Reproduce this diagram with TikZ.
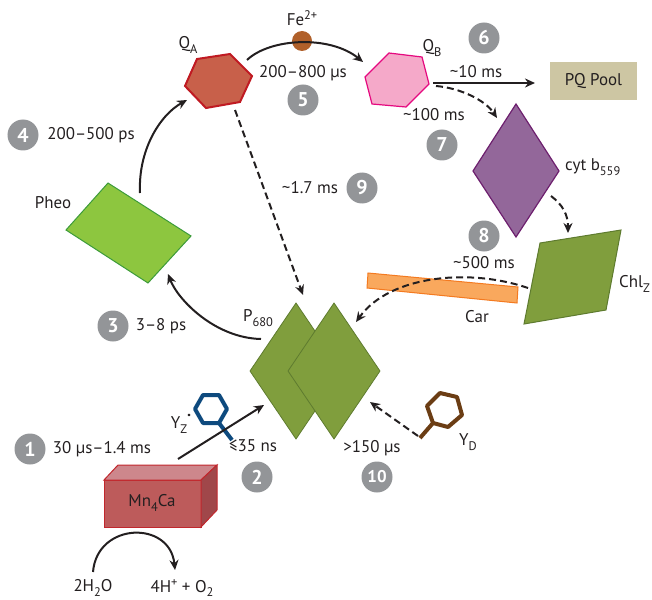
\documentclass[tikz,border=0pt]{standalone}
\usepackage{fontspec}
\setmainfont{PT Sans}
\usetikzlibrary{arrows.meta}
\definecolor{txt}{HTML}{231F20}
\definecolor{qafill}{HTML}{C8604A}
\definecolor{qadraw}{HTML}{C01A22}
\definecolor{qbfill}{HTML}{F5A9C9}
\definecolor{qbdraw}{HTML}{E5097F}
\definecolor{pqfill}{HTML}{CDC6A3}
\definecolor{cytfill}{HTML}{93679A}
\definecolor{cytdraw}{HTML}{6D1F6E}
\definecolor{olive}{HTML}{809E3D}
\definecolor{olivedraw}{HTML}{5E7B2F}
\definecolor{pheofill}{HTML}{8DC63F}
\definecolor{pheodraw}{HTML}{3C9B3A}
\definecolor{carfill}{HTML}{F9A85D}
\definecolor{cardraw}{HTML}{F47A20}
\definecolor{mnfront}{HTML}{BD5B5B}
\definecolor{mntop}{HTML}{CD878C}
\definecolor{mnside}{HTML}{A0474A}
\definecolor{mndraw}{HTML}{C1272D}
\definecolor{yzcol}{HTML}{0E4A7E}
\definecolor{ydcol}{HTML}{6B3D14}
\definecolor{fecol}{HTML}{B0602A}
\definecolor{badgecol}{HTML}{939598}
\newcommand\lo[1]{\raisebox{-0.55ex}{\fontsize{12.5}{12.5}\selectfont #1}}
\newcommand\hi[1]{\raisebox{0.7ex}{\fontsize{12.5}{12.5}\selectfont #1}}
\begin{document}
\begin{tikzpicture}[x=1bp,y=-1bp,
  lbl/.style={text=txt,font=\fontsize{17}{19}\selectfont,inner sep=0pt},
  badge/.style={circle,fill=badgecol,minimum size=31bp,inner sep=0pt,text=white,font=\bfseries\fontsize{20}{20}\selectfont},
  solidarrow/.style={line width=2bp,draw=txt,-{Stealth[length=10bp,width=9bp]}},
  dasharrow/.style={line width=2bp,draw=txt,dash pattern=on 7bp off 4bp,-{Stealth[length=10bp,width=9bp]}}]
\useasboundingbox (0,0) rectangle (652,600);

% ---- shapes ----
% Q_A
\draw[fill=qafill,draw=qadraw,line width=2bp] (197,59) -- (230,54) -- (252,76) -- (240,102) -- (206,108) -- (185,86) -- cycle;
% Q_B
\draw[fill=qbfill,draw=qbdraw,line width=1.2bp] (389,53) -- (422,57) -- (429,84) -- (406,107) -- (372,104) -- (365,77) -- cycle;
% PQ pool
\node[fill=pqfill,minimum width=87bp,minimum height=38bp,inner sep=0pt,text=txt,font=\fontsize{17}{19}\selectfont] (pq) at (593.5,81) {PQ Pool};
% cyt b559
\draw[fill=cytfill,draw=cytdraw,line width=1.2bp] (516,104) -- (559,171) -- (516,237) -- (473,171) -- cycle;
% Chl_Z
\draw[fill=olive,draw=olivedraw,line width=1bp] (540,243) -- (621,230) -- (606,310) -- (524,324) -- cycle;
% Car
\draw[fill=carfill,draw=cardraw,line width=1bp] (368,273) -- (518,287) -- (517,303) -- (367,288) -- cycle;
% Pheo
\draw[fill=pheofill,draw=pheodraw,line width=1bp] (108,183) -- (191,236) -- (148,283) -- (66,230) -- cycle;
% P680
\draw[fill=olive,draw=olivedraw,line width=0.8bp] (296,303) -- (342,371) -- (296,439) -- (250,371) -- cycle;
\draw[fill=olive,draw=olivedraw,line width=0.8bp] (334,303) -- (380,371) -- (334,439) -- (288,371) -- cycle;
% Mn4Ca box
\draw[fill=mnfront,draw=mndraw,line width=1bp] (104,480) rectangle (201,527);
\draw[fill=mntop,draw=mndraw,line width=1bp] (104,480) -- (118,465) -- (217,465) -- (201,480) -- cycle;
\draw[fill=mnside,draw=mndraw,line width=1bp] (201,480) -- (217,465) -- (217,510) -- (201,527) -- cycle;
\node[lbl] (mn) at (152,503) {Mn\lo{4}Ca};
% Fe circle
\fill[fecol] (302,41) circle (10bp);

% Y_Z tyrosine
\draw[yzcol,line width=4bp,line join=round] (227,409) -- (219,395) -- (203,395) -- (195,409) -- (203,423) -- (219,423) -- cycle;
\draw[yzcol,line width=4bp] (219,423) -- (232,440);
% Y_D tyrosine
\draw[ydcol,line width=4bp,line join=round] (440,393) -- (457,397) -- (462,415) -- (448,427) -- (433,423) -- (427,406) -- cycle;
\draw[ydcol,line width=4bp] (433,423) -- (420,438);

% ---- connector coordinates ----
\coordinate (qaR) at (247,60);
\coordinate (qbL) at (363,62);
\coordinate (qbR) at (433,83);
\coordinate (pqL) at (535,83);
\coordinate (qbR2) at (436,86);
\coordinate (cytT) at (497,118);
\coordinate (cytB) at (551,196);
\coordinate (chlT) at (568,233);
\coordinate (chlL) at (528,288);
\coordinate (pR) at (356,322);
\coordinate (qaB) at (235,110);
\coordinate (pT) at (303,295);
\coordinate (pL) at (261,339);
\coordinate (pheoB) at (168,274);
\coordinate (pheoT) at (140,193);
\coordinate (qaL) at (187,100);
\coordinate (mnT) at (178,459);
\coordinate (pB) at (264,405);
\coordinate (ydS) at (418,436);
\coordinate (pRB) at (370,402);
\coordinate (wS) at (93,572);
\coordinate (wE) at (175,570);

% ---- connectors ----
\draw[solidarrow] (qaR) .. controls (270,38) and (330,35) .. (qbL);
\draw[solidarrow] (qbR) -- (pqL);
\draw[dasharrow] (qbR2) .. controls (460,88) and (485,100) .. (cytT);
\draw[dasharrow] (cytB) .. controls (563,205) and (568,215) .. (chlT);
\draw[dasharrow] (chlL) .. controls (470,268) and (390,275) .. (pR);
\draw[dasharrow] (qaB) -- (pT);
\draw[solidarrow] (pL) .. controls (215,338) and (178,300) .. (pheoB);
\draw[solidarrow] (pheoT) .. controls (138,150) and (160,115) .. (qaL);
\draw[solidarrow] (mnT) -- (pB);
\draw[dasharrow] (ydS) -- (pRB);
\draw[solidarrow] (wS) .. controls (97,522) and (170,520) .. (wE);

% ---- labels ----
\node[lbl] (lqa) at (188,45) {Q\lo{A}};
\node[lbl] (lfe) at (302,18) {Fe\hi{2+}};
\node[lbl] (t5) at (303,73) {200–800 µs};
\node[badge] (b5) at (303,100) {5};
\node[lbl] (lqb) at (432,48) {Q\lo{B}};
\node[badge] (b6) at (484,38) {6};
\node[lbl] (t6) at (476,72) {\textasciitilde10 ms};
\node[lbl] (t7) at (434,115) {\textasciitilde100 ms};
\node[badge] (b7) at (442,145) {7};
\node[lbl,anchor=west] (lcyt) at (565,167) {cyt b\lo{559}};
\node[badge] (b4) at (23,135) {4};
\node[lbl] (t4) at (91,135) {200–500 ps};
\node[lbl] (lpheo) at (53,203) {Pheo};
\node[lbl] (t9) at (310,188) {\textasciitilde1.7 ms};
\node[badge] (b9) at (362,188) {9};
\node[badge] (b8) at (484,236) {8};
\node[lbl] (t8) at (484,263) {\textasciitilde500 ms};
\node[lbl,anchor=west] (lchl) at (619,284) {Chl\lo{Z}};
\node[lbl] (lcar) at (477,317) {Car};
\node[lbl] (lp) at (258,318) {P\lo{680}};
\node[badge] (b3) at (113,326) {3};
\node[lbl] (t3) at (161,326) {3–8 ps};
\node[badge] (b1) at (30,449) {1};
\node[lbl] (t1) at (102,449) {30 µs–1.4 ms};
\node[lbl] (lyz) at (181,424) {Y\lo{Z}\raisebox{0.9ex}{\fontsize{16}{16}\selectfont\bfseries ·}};
\node[lbl] (t2) at (253,446) {≤35 ns};
\node[badge] (b2) at (257,477) {2};
\node[lbl] (t10) at (372,448) {>150 µs};
\node[badge,font=\bfseries\fontsize{17}{17}\selectfont] (b10) at (377,477) {10};
\node[lbl] (lyd) at (468,442) {Y\lo{D}};
\node[lbl] (lh2o) at (93,588) {2H\lo{2}O};
\node[lbl] (lo2) at (182,588) {4H\hi{+} + O\lo{2}};
\end{tikzpicture}
\end{document}
